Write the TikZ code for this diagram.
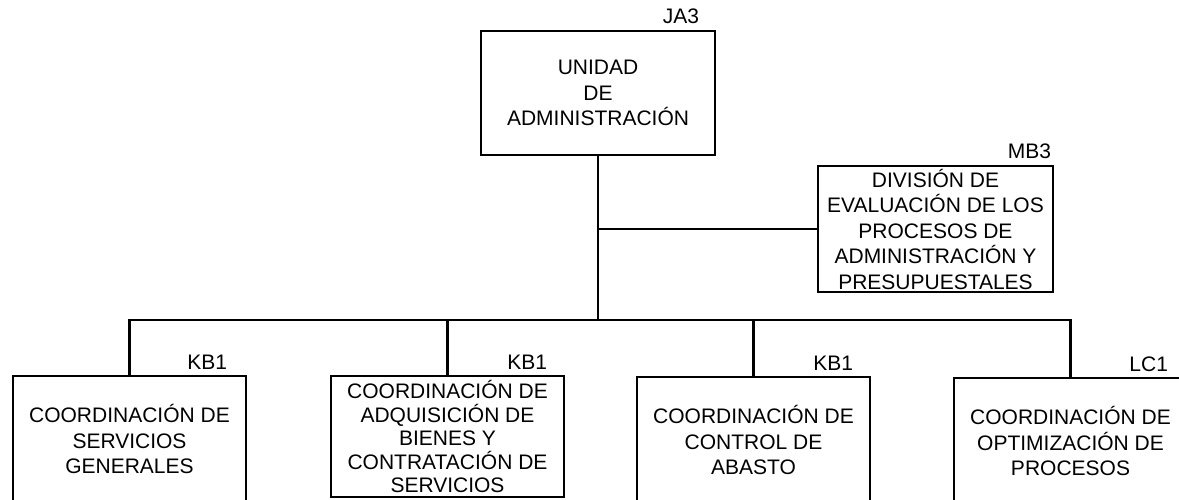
\documentclass[tikz,border=0pt]{standalone}
\usepackage{fontspec}
\setmainfont{Liberation Sans}
\usetikzlibrary{positioning}

\begin{document}
\begin{tikzpicture}[x=1pt,y=1pt,line width=2.3pt,
    caja/.style={draw,align=center,inner sep=1pt,minimum width=233pt,minimum height=126pt,
      font=\fontsize{21}{25.5}\selectfont},
    clave/.style={anchor=base east,inner sep=0pt,font=\fontsize{21}{25.5}\selectfont}]
\useasboundingbox (0,0) rectangle (1179,-499);
\node[caja,minimum width=234pt,minimum height=124pt] (ua) at (598,-93) {UNIDAD\\DE\\ADMINISTRACIÓN};
\node[caja,minimum width=235pt] (div) at (935.5,-229) {DIVISIÓN DE\\EVALUACIÓN DE LOS\\PROCESOS DE\\ADMINISTRACIÓN Y\\PRESUPUESTALES};
\node[caja] (csg) at (129.5,-439) {COORDINACIÓN DE\\SERVICIOS\\GENERALES};
\node[caja,minimum height=121pt,inner sep=0pt,font=\fontsize{21}{23.5}\selectfont] (cab) at (447.5,-436.5) {COORDINACIÓN DE\\ADQUISICIÓN DE\\BIENES Y\\CONTRATACIÓN DE\\SERVICIOS};
\node[caja] (cca) at (753.5,-440) {COORDINACIÓN DE\\CONTROL DE\\ABASTO};
\node[caja] (cop) at (1070.5,-441) {COORDINACIÓN DE\\OPTIMIZACIÓN DE\\PROCESOS};
% claves de puesto
\node[clave] (ja3) at ([shift={(-16pt,6pt)}]ua.north east) {JA3};
\node[clave] (mb3) at ([shift={(-2pt,6pt)}]div.north east) {MB3};
\node[clave] (kb1a) at ([shift={(-19pt,5pt)}]csg.north east) {KB1};
\node[clave] (kb1b) at ([shift={(-17pt,5pt)}]cab.north east) {KB1};
\node[clave] (kb1c) at ([shift={(-17pt,5pt)}]cca.north east) {KB1};
\node[clave] (lc1) at ([shift={(-19pt,5pt)}]cop.north east) {LC1};
% lineas
\coordinate (bus) at (0,-320);
\draw (ua.south) -- (ua.south |- bus);
\draw (ua.south |- div.west) -- (div.west);
\draw (csg.north) |- (cop.north |- bus) -- (cop.north);
\draw (cab.north) -- (cab.north |- bus);
\draw (cca.north) -- (cca.north |- bus);
\end{tikzpicture}
\end{document}
